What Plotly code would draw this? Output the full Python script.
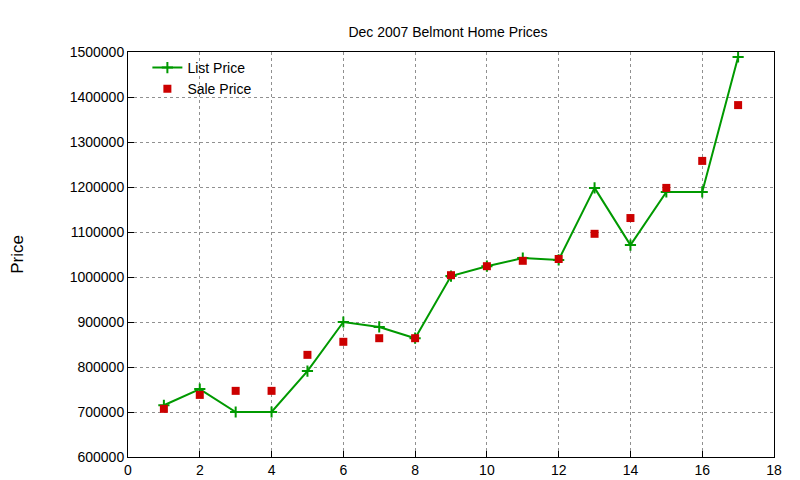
import plotly.graph_objects as go

house = list(range(1, 18))
list_price = [715000, 751000, 700000, 700000, 791000, 900000, 889000, 864000, 1002000,
              1024000, 1042000, 1038000, 1198000, 1071000, 1189000, 1189000, 1489000]
sale_price = [707000, 738000, 747000, 747000, 827000, 856000, 864000, 864000, 1004000,
              1024000, 1036000, 1040000, 1096000, 1131000, 1198000, 1258000, 1382000]

fig = go.Figure()
fig.add_trace(go.Scatter(x=house, y=list_price, name='List Price', mode='lines+markers',
                         line=dict(color='#009900', width=2),
                         marker=dict(symbol='cross-thin', size=8, line=dict(color='#009900', width=2))))
fig.add_trace(go.Scatter(x=house, y=sale_price, name='Sale Price', mode='markers',
                         marker=dict(symbol='square', size=8, color='#cc0000')))

axis = dict(showline=True, mirror=True, linecolor='black', linewidth=1,
            ticks='inside', ticklen=6, tickcolor='black', automargin=False,
            showgrid=True, gridcolor='#909090', griddash='dot', zeroline=False)
fig.update_xaxes(range=[0, 18], dtick=2, **axis)
fig.update_yaxes(range=[600000, 1500000], dtick=100000, tickformat='d',
                 title=dict(text='Price', standoff=45), **axis)
fig.update_layout(
    width=800, height=480, plot_bgcolor='white', paper_bgcolor='white',
    font=dict(family='Liberation Sans, Arial', size=14, color='black'),
    title=dict(text='Dec 2007 Belmont Home Prices', x=0.55, y=0.96, automargin=False,
               font=dict(size=14)),
    margin=dict(l=120, r=34, t=44, b=31, autoexpand=False),
    legend=dict(x=0.03, y=1.0, bgcolor='rgba(0,0,0,0)', tracegroupgap=0),
)
fig.write_html("out.html")
